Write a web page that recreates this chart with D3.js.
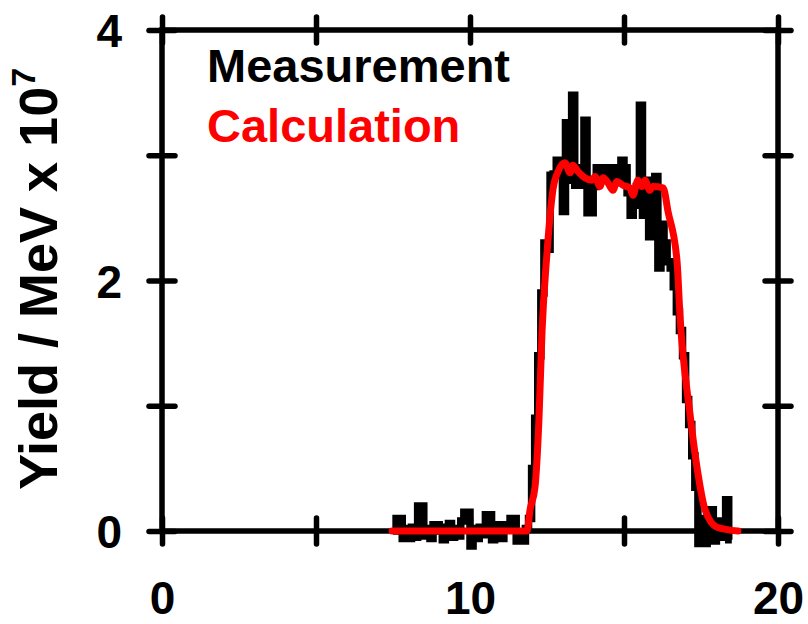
<!DOCTYPE html>
<html>
<head>
<meta charset="utf-8">
<script src="https://cdn.jsdelivr.net/npm/d3@7"></script>
<style>
  html, body { margin: 0; padding: 0; background: #fff; }
  svg { display: block; }
  text { font-family: "Liberation Sans", Arial, sans-serif; font-weight: bold; }
</style>
</head>
<body>
<script>
// Axis ticks and labels
const xTicks = [0, 5, 10, 15, 20];
const xLabels = [0, 10, 20];
const yTicks = [0, 1, 2, 3, 4];
const yLabels = [0, 2, 4];

// Measured spectrum: histogram bins of 0.1 MeV starting at 7.5 MeV
const measStart = 7.5;
const measBinWidth = 0.1;
const measYield = [
  0.0, 0.1, 0.1, -0.06, 0.02, -0.06, 0.03, -0.05, 0.2, 0.2,
  -0.04, 0.02, -0.06, 0.05, 0.05, 0.0, -0.07, 0.03, 0.06, -0.05,
  0.02, -0.04, 0.08, 0.15, 0.15, -0.12, 0.02, -0.06, 0.03, -0.03,
  0.13, 0.13, -0.07, 0.02, 0.05, -0.06, 0.02, 0.05, 0.1, 0.1,
  -0.08, -0.02, -0.08, 0.02, 0.1, 0.5, 0.9, 1.4, 1.9, 2.3,
  2.25, 2.84, 2.85, 2.96, 2.96, 2.55, 3.26, 2.8, 3.48, 2.76,
  2.76, 2.9, 3.28, 2.54, 2.54, 2.75, 2.9, 2.8, 2.9, 2.85,
  2.9, 2.78, 2.9, 2.8, 2.96, 2.9, 2.7, 2.52, 2.6, 2.75,
  3.4, 2.52, 2.8, 2.35, 2.6, 2.83, 2.1, 2.45, 2.3, 2.15,
  2.1, 1.95, 1.75, 1.6, 1.4, 1.05, 0.85, 0.6, 0.35, -0.1,
  0.1, -0.1, 0.17, 0.17, -0.08, 0.08, -0.05, 0.05, 0.25, -0.07
];

// Calculated spectrum
const calcEnergy = [
  7.47, 11.85, 11.95, 12.11, 12.24, 12.34, 12.5, 12.69, 12.86, 13.08,
  13.25, 13.34, 13.51, 13.73, 13.96, 14.06, 14.22, 14.32, 14.48, 14.64,
  14.77, 14.97, 15.19, 15.29, 15.45, 15.58, 15.68, 15.84, 15.94, 16.27,
  16.43, 16.72, 16.82, 17.14, 17.4, 17.63, 18.02, 18.7
];
const calcYield = [
  0, 0, 0.17, 0.35, 0.9, 1.6, 2.22, 2.72, 2.87, 2.94,
  2.86, 2.92, 2.87, 2.82, 2.8, 2.83, 2.75, 2.82, 2.78, 2.72,
  2.79, 2.76, 2.74, 2.68, 2.8, 2.75, 2.8, 2.72, 2.75, 2.74,
  2.55, 2.16, 1.71, 0.94, 0.46, 0.17, 0.03, 0
];

const W = 808, H = 624;
const plotL = 162, plotR = 778, plotT = 30, plotB = 531;

const svg = d3.select("body").append("svg")
  .attr("width", W).attr("height", H);

const x = d3.scaleLinear().domain([0, 20]).range([plotL, plotR]);
const y = d3.scaleLinear().domain([0, 4]).range([plotB, plotT]);

const tickHalf = 13;
const axisStroke = 5.5;

function styleAxis(g) {
  g.select(".domain").remove();
  g.selectAll(".tick line")
    .attr("stroke", "#000")
    .attr("stroke-width", axisStroke)
    .attr("stroke-linecap", "round");
  g.selectAll(".tick text")
    .attr("fill", "#000")
    .style("font-size", "46px")
    .style("font-weight", "bold")
    .style("font-family", "'Liberation Sans', Arial, sans-serif");
}

// Frame
svg.append("rect")
  .attr("x", plotL).attr("y", plotT)
  .attr("width", plotR - plotL).attr("height", plotB - plotT)
  .attr("fill", "none").attr("stroke", "#000").attr("stroke-width", axisStroke);

// Bottom axis
const gB = svg.append("g").attr("transform", `translate(0,${plotB})`)
  .call(d3.axisBottom(x).tickValues(xTicks).tickSize(tickHalf).tickPadding(0)
    .tickFormat(d => xLabels.includes(d) ? d3.format("d")(d) : ""));
styleAxis(gB);
gB.selectAll(".tick line").attr("y1", -tickHalf);
gB.selectAll(".tick text").attr("y", 83).attr("dy", null);

// Top axis
const gT = svg.append("g").attr("transform", `translate(0,${plotT})`)
  .call(d3.axisTop(x).tickValues(xTicks).tickSize(tickHalf).tickFormat(""));
styleAxis(gT);
gT.selectAll(".tick line").attr("y1", tickHalf);

// Left axis
const gL = svg.append("g").attr("transform", `translate(${plotL},0)`)
  .call(d3.axisLeft(y).tickValues(yTicks).tickSize(tickHalf)
    .tickFormat(d => yLabels.includes(d) ? d3.format("d")(d) : ""));
styleAxis(gL);
gL.selectAll(".tick line").attr("x1", tickHalf);
gL.selectAll(".tick text").attr("x", -40).attr("dy", "0.36em");

// Right axis
const gR = svg.append("g").attr("transform", `translate(${plotR},0)`)
  .call(d3.axisRight(y).tickValues(yTicks).tickSize(tickHalf).tickFormat(""));
styleAxis(gR);
gR.selectAll(".tick line").attr("x1", -tickHalf);

// Measurement histogram
const measPts = measYield.map((v, i) => [measStart + i * measBinWidth, v]);
measPts.push([measStart + measYield.length * measBinWidth, measYield[measYield.length - 1]]);

svg.append("path")
  .datum(measPts)
  .attr("fill", "none")
  .attr("stroke", "#000")
  .attr("stroke-width", 7.5)
  .attr("stroke-linejoin", "miter")
  .attr("d", d3.line().x(d => x(d[0])).y(d => y(d[1])).curve(d3.curveStepAfter));

// Calculation curve
svg.append("path")
  .datum(calcEnergy.map((e, i) => [e, calcYield[i]]))
  .attr("fill", "none")
  .attr("stroke", "#ff0000")
  .attr("stroke-width", 7)
  .attr("stroke-linejoin", "round")
  .attr("stroke-linecap", "round")
  .attr("d", d3.line().x(d => x(d[0])).y(d => y(d[1])).curve(d3.curveMonotoneX));

// Legend
svg.append("text").attr("x", 207).attr("y", 82)
  .style("font-size", "47px").attr("fill", "#000").text("Measurement");
svg.append("text").attr("x", 207).attr("y", 142)
  .style("font-size", "47px").attr("fill", "#ff0000").text("Calculation");

// Y-axis title
const yTitle = svg.append("text")
  .attr("transform", "translate(57,490) rotate(-90)")
  .style("font-size", "54px").attr("fill", "#000");
yTitle.append("tspan").text("Yield / MeV x 10");
yTitle.append("tspan").attr("dy", -22).style("font-size", "34px").text("7");
</script>
</body>
</html>
